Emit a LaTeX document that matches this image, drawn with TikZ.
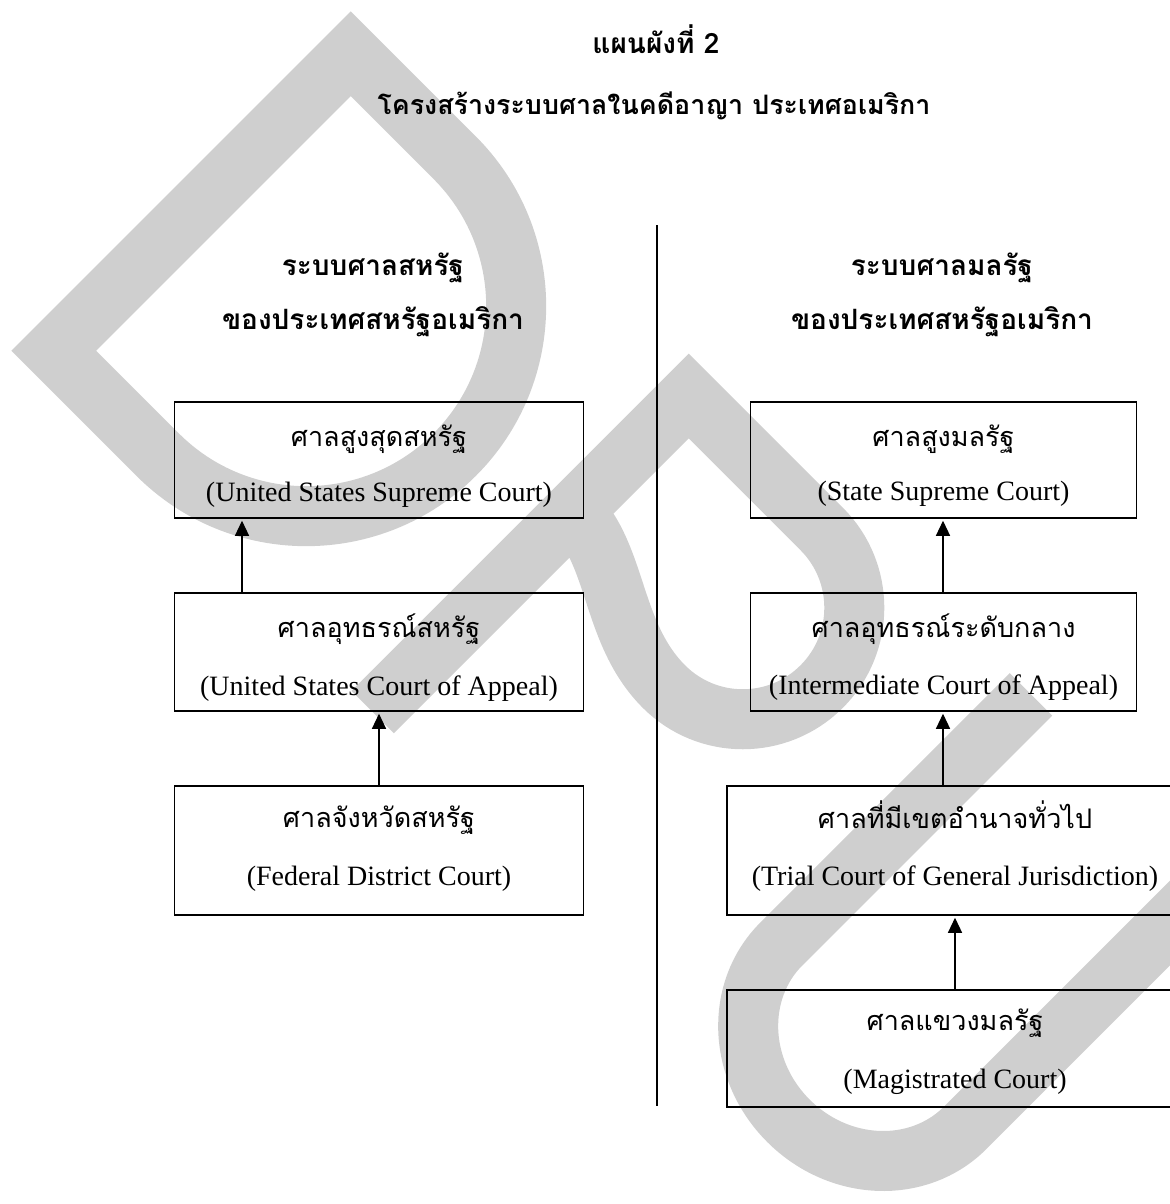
\documentclass[tikz,border=0pt]{standalone}
\usepackage{fontspec}
\setmainfont{Liberation Serif}
\newfontfamily\thai[Script=Thai]{Loma}
\usetikzlibrary{arrows.meta}
\definecolor{wmgray}{gray}{0.81}
\begin{document}
\begin{tikzpicture}[x=0.5pt,y=-0.5pt,
  courtbox/.style={draw,line width=0.75pt,inner sep=0pt,minimum width=#1},
  thline/.style={anchor=base,inner sep=0pt,font=\thai\fontsize{13.5}{15}\selectfont},
  enline/.style={anchor=base,inner sep=0pt,font=\fontsize{14}{16}\selectfont},
  head/.style={anchor=base,inner sep=0pt,font=\thai\bfseries\fontsize{14}{16}\selectfont},
  uparrow/.style={draw,line width=0.6pt,-{Triangle[length=7.5pt,width=7pt]},shorten >=1pt}]
\useasboundingbox (0,0) rectangle (1170,1204);
\clip (0,0) rectangle (1170,1204);

% grey watermark letters D, P, U set along the diagonal
\begin{scope}[x={(0.35355pt,-0.35355pt)},y={(0.35355pt,0.35355pt)},
    line width=30pt,draw=wmgray]
  \draw (286,-210) -- (286,210) -- (433,210)
        arc[start angle=90,end angle=-90,radius=210] -- cycle;
  \draw (767,-240) -- (767,207) -- (955,207)
        arc[start angle=90,end angle=-90,radius=111.5]
        .. controls (880,-16) and (830,44) .. (767,44);
  \draw (1220,238) -- (1220,-115)
        arc[start angle=180,end angle=360,x radius=130,y radius=120]
        -- (1480,600);
\end{scope}

% titles
\node[head] (t1) at (656,54) {แผนผังที่ 2};
\node[head,font=\thai\bfseries\fontsize{13.4}{16}\selectfont] (t2) at (654,114)
  {โครงสร้างระบบศาลในคดีอาญา ประเทศอเมริกา};

% column headings
\node[head] (hl1) at (373,275) {ระบบศาลสหรัฐ};
\node[head] (hl2) at (373,329) {ของประเทศสหรัฐอเมริกา};
\node[head] (hr1) at (942,275) {ระบบศาลมลรัฐ};
\node[head] (hr2) at (942,329) {ของประเทศสหรัฐอเมริกา};

% divider between the two systems
\coordinate (dtop) at (657,225);
\coordinate (dbot) at (657,1106);
\draw[line width=0.7pt] (dtop) -- (dbot);

% federal courts
\node[courtbox=204.5pt,minimum height=58pt] (f1) at (379,460) {};
\node[courtbox=204.5pt,minimum height=59pt] (f2) at (379,652) {};
\node[courtbox=204.5pt,minimum height=64.5pt] (f3) at (379,850.5) {};
\node[thline] (f1a) at (379,446) {ศาลสูงสุดสหรัฐ};
\node[enline] (f1b) at (379,501) {(United States Supreme Court)};
\node[thline] (f2a) at (379,637) {ศาลอุทธรณ์สหรัฐ};
\node[enline] (f2b) at (379,695) {(United States Court of Appeal)};
\node[thline] (f3a) at (379,827) {ศาลจังหวัดสหรัฐ};
\node[enline] (f3b) at (379,885) {(Federal District Court)};

% state courts
\node[courtbox=193pt,minimum height=58pt] (s1) at (943.5,460) {};
\node[courtbox=193pt,minimum height=59pt] (s2) at (943.5,652) {};
\node[courtbox=228pt,minimum height=64.5pt] (s3) at (955,850.5) {};
\node[courtbox=228pt,minimum height=58.5pt] (s4) at (955,1048.5) {};
\node[thline] (s1a) at (943.5,446) {ศาลสูงมลรัฐ};
\node[enline] (s1b) at (943.5,500) {(State Supreme Court)};
\node[thline] (s2a) at (943.5,637) {ศาลอุทธรณ์ระดับกลาง};
\node[enline] (s2b) at (943.5,694) {(Intermediate Court of Appeal)};
\node[thline] (s3a) at (955,828) {ศาลที่มีเขตอำนาจทั่วไป};
\node[enline] (s3b) at (955,885) {(Trial Court of General Jurisdiction)};
\node[thline] (s4a) at (955,1030) {ศาลแขวงมลรัฐ};
\node[enline] (s4b) at (955,1088) {(Magistrated Court)};

% appeal routes
\coordinate (ax1) at (242,0);
\coordinate (ax2) at (379,0);
\coordinate (ax3) at (943,0);
\coordinate (ax4) at (955,0);
\draw[uparrow] (f2.north -| ax1) -- (f1.south -| ax1);
\draw[uparrow] (f3.north -| ax2) -- (f2.south -| ax2);
\draw[uparrow] (s2.north -| ax3) -- (s1.south -| ax3);
\draw[uparrow] (s3.north -| ax3) -- (s2.south -| ax3);
\draw[uparrow] (s4.north -| ax4) -- (s3.south -| ax4);
\end{tikzpicture}
\end{document}
